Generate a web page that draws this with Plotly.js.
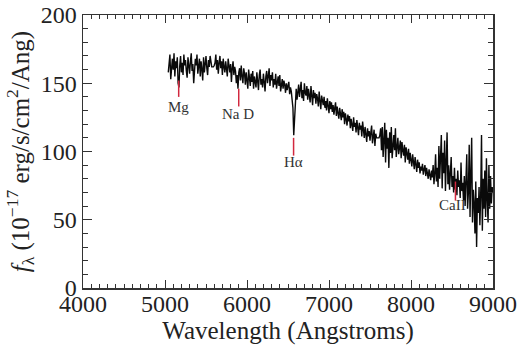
<!DOCTYPE html>
<html>
<head>
<meta charset="utf-8">
<script src="https://cdn.plot.ly/plotly-3.0.1.min.js"></script>
<style>html,body{margin:0;padding:0;background:#fff;}#plot{width:520px;height:346px;}</style>
</head>
<body>
<div id="plot"></div>
<script>
// Spectrum sampled every 10 Angstroms from 5040 to 9000
var wlStart = 5040, wlStep = 10;
var flux = [
158,166,171,153,164,168,160,172,155,166,
161,169,150,147,163,170,158,165,156,171,
163,167,159,154,169,161,157,166,172,159,
164,150,160,168,163,171,157,162,168,155,
166,160,152,169,158,164,170,161,156,167,
162,170,163,162,162,162,163,165,171,160,
167,157,165,170,161,166,156,168,162,158,
166,160,155,168,163,158,164,151,161,166,
156,162,159,150,156,146,158,161,152,163,
155,150,161,157,149,158,152,146,160,153,
148,157,151,159,146,155,152,147,158,150,
145,156,160,149,153,147,157,151,144,155,
159,150,154,161,148,156,152,158,147,153,
149,157,146,152,155,148,156,144,151,153,
146,152,149,143,150,145,148,151,142,147,
144,139,132,112,128,140,146,138,143,149,
140,147,151,139,145,137,150,143,141,148,
138,146,142,136,148,140,134,145,139,143,
135,142,139,133,144,137,131,141,136,134,
140,132,137,130,139,135,128,137,131,136,
129,134,127,132,136,126,133,128,124,132,
127,123,131,125,129,120,128,124,119,127,
122,126,117,124,120,115,125,118,121,114,
123,117,112,121,116,119,111,122,115,110,
118,113,107,117,111,115,108,114,119,106,
112,116,104,113,110,110,110,110,112,117,
101,118,96,114,121,92,116,102,110,88,
114,99,118,95,108,112,101,117,96,106,
110,98,104,108,95,107,101,97,105,92,
103,97,94,102,91,99,95,89,98,93,
87,96,90,85,94,88,92,84,89,86,
91,83,87,90,82,88,84,80,87,83,
79,86,81,90,76,84,98,78,88,74,
104,80,92,112,73,99,84,108,71,94,
114,76,90,72,85,96,74,82,70,88,
72,80,68,86,74,79,66,92,71,77,
64,82,60,75,98,58,70,105,52,84,
110,48,72,62,40,78,30,66,55,74,
46,68,112,42,80,58,86,52,95,64,
48,90,58,82,62,74,70
];
var wavelengths = flux.map(function(_, i){ return wlStart + i*wlStep; });

// Identified lines
var lineNames = ["Mg", "Na D", "Hα", "CaII"];
var lineWl = [5167, 5899, 6568, 8542];
var lineTop = [152, 146, 110, 78];
var lineBottom = [140, 133, 97, 64];
var labelWl = [5167, 5890, 6573, 8512];
var labelFlux = [132.5, 127.5, 92, 61];

var lx = [], ly = [];
for (var i = 0; i < lineWl.length; i++) {
  lx.push(lineWl[i], lineWl[i], null);
  ly.push(lineTop[i], lineBottom[i], null);
}

var serif = "Liberation Serif";

var traces = [
  {x: wavelengths, y: flux, type: 'scatter', mode: 'lines',
   line: {color: '#0a0a0a', width: 1.4}, hoverinfo: 'skip'},
  {x: lx, y: ly, type: 'scatter', mode: 'lines',
   line: {color: '#d2283f', width: 1.5}, hoverinfo: 'skip'}
];

var annotations = lineNames.map(function(n, i){
  return {x: labelWl[i], y: labelFlux[i], xref: 'x', yref: 'y', text: n,
          showarrow: false, font: {family: serif, size: 15, color: '#333'}};
});

var axisCommon = {
  showgrid: false, zeroline: false, showline: true, linecolor: '#333', linewidth: 1.5,
  ticks: 'inside', mirror: 'allticks', tickcolor: '#333', tickwidth: 1,
  tickfont: {family: serif, size: 24, color: '#222'}
};

var layout = {
  width: 520, height: 346,
  margin: {l: 83, r: 27, t: 15, b: 58},
  paper_bgcolor: '#fff', plot_bgcolor: '#fff',
  showlegend: false,
  xaxis: Object.assign({}, axisCommon, {
    range: [4000, 9000], dtick: 1000, tick0: 4000, ticklen: 8,
    ticklabelstandoff: -6,
    minor: {dtick: 100, ticklen: 4, ticks: 'inside', tickcolor: '#333', tickwidth: 1},
    title: {text: 'Wavelength (Angstroms)', font: {family: serif, size: 25, color: '#222'}, standoff: 0}
  }),
  yaxis: Object.assign({}, axisCommon, {
    range: [0, 200], dtick: 50, tick0: 0, ticklen: 9,
    minor: {dtick: 10, ticklen: 5, ticks: 'inside', tickcolor: '#333', tickwidth: 1},
    title: {text: '<i>f</i><sub>λ</sub> (10<sup>−17</sup> erg/s/cm<sup>2</sup>/Ang)', font: {family: serif, size: 25, color: '#222'}, standoff: 4}
  }),
  annotations: annotations
};

Plotly.newPlot('plot', traces, layout, {staticPlot: true, displayModeBar: false});
</script>
</body>
</html>
